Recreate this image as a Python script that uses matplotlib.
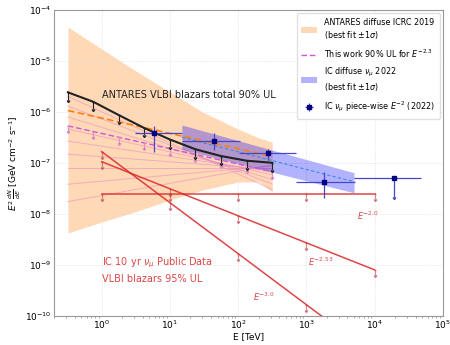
import numpy as np
import matplotlib
matplotlib.use("Agg")
import matplotlib.pyplot as plt

# ---------------- data ----------------
ant_E = [0.32, 0.75, 1.78, 4.2, 10.0, 23.7, 56.0, 133.0, 316.0]
ant_total = [2.43e-6, 1.59e-6, 8.7e-7, 4.86e-7, 2.89e-7, 1.86e-7, 1.37e-7, 1.11e-7, 1.01e-7]

uw_norm_1TeV = 3.8e-7
uw_gamma = 2.3

antdiff_norm_1TeV = 7.6e-7
antdiff_gamma = 2.3

band_E = [0.32, 1.0, 3.0, 10.0, 30.0, 100.0, 200.0, 316.0]
band_hi = [4.64e-5, 1.72e-5, 6.67e-6, 2.47e-6, 1.0e-6, 4.64e-7, 3.1e-7, 2.58e-7]
band_lo = [4.24e-9, 6.97e-9, 1.09e-8, 1.88e-8, 2.95e-8, 4.24e-8, 4.3e-8, 2.7e-8]

fan_gamma = [2.61, 2.51, 2.41, 2.30, 2.20, 2.10, 2.00, 1.88, 1.76]
fan_norm_1TeV = [1.01e-6, 7.3e-7, 5.0e-7, 3.3e-7, 2.14e-7, 1.33e-7, 8.0e-8, 4.4e-8, 2.3e-8]

ic_E = [15.0, 5000.0]
ic_best = [3.19e-7, 4.3e-8]
ic_hi = [5.56e-7, 6.45e-8]
ic_lo = [1.86e-7, 2.6e-8]

pw_E = [5.9, 44.7, 277.0, 1800.0, 19000.0]
pw_Elo = [3.1, 15.0, 102.0, 705.0, 5000.0]
pw_Ehi = [15.0, 107.0, 705.0, 5100.0, 48000.0]
pw_F = [3.93e-7, 2.73e-7, 1.55e-7, 4.18e-8, 5.0e-8]
pw_Flo = [1.67e-7, 1.8e-7, 1.15e-7, 2.04e-8, 2.19e-8]
pw_Fhi = [5.3e-7, 3.87e-7, 1.88e-7, 6.76e-8, 5.0e-8]
pw_isUL = [False, False, False, False, True]

red_E = [1.0, 10.0, 100.0, 1000.0, 10000.0]
red_gamma = [2.0, 2.53, 3.0]
red_norm_1TeV = [2.47e-8, 1.06e-7, 1.67e-7]
red_labels = ["$E^{-2.0}$", "$E^{-2.53}$", "$E^{-3.0}$"]
red_label_E = [5470.0, 1050.0, 166.0]
red_label_F = [9.1e-9, 1.15e-9, 2.34e-10]

# ---------------- plotting ----------------
plt.rcParams['font.family'] = ['DejaVu Sans']
plt.rcParams['font.size'] = 6.5

fig = plt.figure(figsize=(4.5, 3.45), dpi=100)
ax = fig.add_axes([0.12, 0.084, 0.864, 0.887])
ax.set_xscale('log')
ax.set_yscale('log')

orange = '#ff7f0e'
pink = '#e377c2'
red = '#d62728'

ax.fill_between(band_E, band_lo, band_hi, color=orange, alpha=0.3, lw=0,
                label='ANTARES diffuse ICRC 2019\n(best fit $\\pm1\\sigma$)', zorder=1)

Efan = np.array([ant_E[0], ant_E[-1]])
for g, n in zip(fan_gamma, fan_norm_1TeV):
    ax.plot(Efan, n * Efan ** (2 - g), color=pink, lw=0.7, alpha=0.45, zorder=2)

Ea = np.array(ant_E)
ax.plot(Ea, antdiff_norm_1TeV * Ea ** (2 - antdiff_gamma), color=orange, ls=(0, (4, 2)), lw=1.2, zorder=3)

uw = uw_norm_1TeV * Ea ** (2 - uw_gamma)
ax.plot(Ea, uw, color='#cc55dd', ls=(0, (4, 2)), lw=1.0, zorder=3,
        label='This work 90% UL for $E^{-2.3}$')
ax.errorbar(Ea, uw, yerr=0.22 * uw, uplims=True, fmt='none', ecolor='#ee88cc',
            elinewidth=0.8, capsize=1.0, zorder=3)

tot = np.array(ant_total)
ax.plot(Ea, tot, color='#222222', lw=1.5, zorder=4)
ax.errorbar(Ea, tot, yerr=0.28 * tot, uplims=True, fmt='none', ecolor='#222222',
            elinewidth=0.8, capsize=1.0, zorder=4)

ax.fill_between(ic_E, ic_lo, ic_hi, color='blue', alpha=0.3, lw=0, zorder=2,
                label='IC diffuse $\\nu_\\mu$ 2022\n(best fit $\\pm1\\sigma$)')
ax.plot(ic_E, ic_best, color='#3a8fd8', ls=(0, (3, 2)), lw=0.8, zorder=3)

pwE = np.array(pw_E); pwF = np.array(pw_F)
xerr = np.array([pwE - np.array(pw_Elo), np.array(pw_Ehi) - pwE])
yerr = np.array([pwF - np.array(pw_Flo), np.array(pw_Fhi) - pwF])
ul = np.array(pw_isUL)
ax.errorbar(pwE[~ul], pwF[~ul], xerr=xerr[:, ~ul], yerr=yerr[:, ~ul], fmt='s', ms=2.5,
            color='navy', ecolor='#4646c8', elinewidth=0.9, capsize=0, zorder=5,
            label='IC $\\nu_\\mu$ piece-wise $E^{-2}$ (2022)')
ax.errorbar(pwE[ul], pwF[ul], xerr=xerr[:, ul], fmt='s', ms=2.5,
            color='navy', ecolor='#4646c8', elinewidth=0.9, capsize=0, zorder=5)
ax.errorbar(pwE[ul], pwF[ul], yerr=yerr[0, ul], uplims=True, fmt='none',
            ecolor='#4646c8', elinewidth=0.9, capsize=1.0, zorder=5)

Er = np.array(red_E)
for g, n in zip(red_gamma, red_norm_1TeV):
    f = n * Er ** (2 - g)
    ax.plot(Er, f, color=red, lw=1.1, alpha=0.85, zorder=3)
    ax.errorbar(Er, f, yerr=0.2 * f, uplims=True, fmt='none', ecolor=red, alpha=0.55,
                elinewidth=0.8, capsize=1.0, zorder=3)

for lab, xe, yf in zip(red_labels, red_label_E, red_label_F):
    ax.text(xe, yf, lab, color=red, alpha=0.85, fontsize=6, va='center', ha='left')

ax.text(1.0, 1.1e-9, 'IC 10 yr $\\nu_\\mu$ Public Data', color=red, alpha=0.85, fontsize=7, va='center')
ax.text(1.0, 5.3e-10, 'VLBI blazars 95% UL', color=red, alpha=0.85, fontsize=7, va='center')
ax.text(1.0, 2.15e-6, 'ANTARES VLBI blazars total 90% UL', color='#222222', fontsize=7, va='center')

ax.set_xlim(0.2, 1e5)
ax.set_ylim(1e-10, 1e-4)
ax.set_xlabel('E [TeV]', labelpad=1)
ax.set_ylabel('$E^2\\,\\frac{dN}{dE}$ [GeV cm$^{-2}$ s$^{-1}$]', labelpad=1)
ax.grid(True, which='major', color='#dddddd', ls=':', lw=0.6)
for s in ax.spines.values():
    s.set_color('#999999')
ax.tick_params(which='major', length=0, pad=2)
ax.tick_params(which='minor', length=1.5, color='#999999')
ax.yaxis.set_minor_locator(matplotlib.ticker.NullLocator())

ax.legend(loc='upper right', fontsize=5.8, framealpha=0.9, edgecolor='#dddddd',
          borderpad=0.6, labelspacing=0.8, handlelength=2.0, borderaxespad=0.4)

fig.savefig('out.png', dpi=100)
